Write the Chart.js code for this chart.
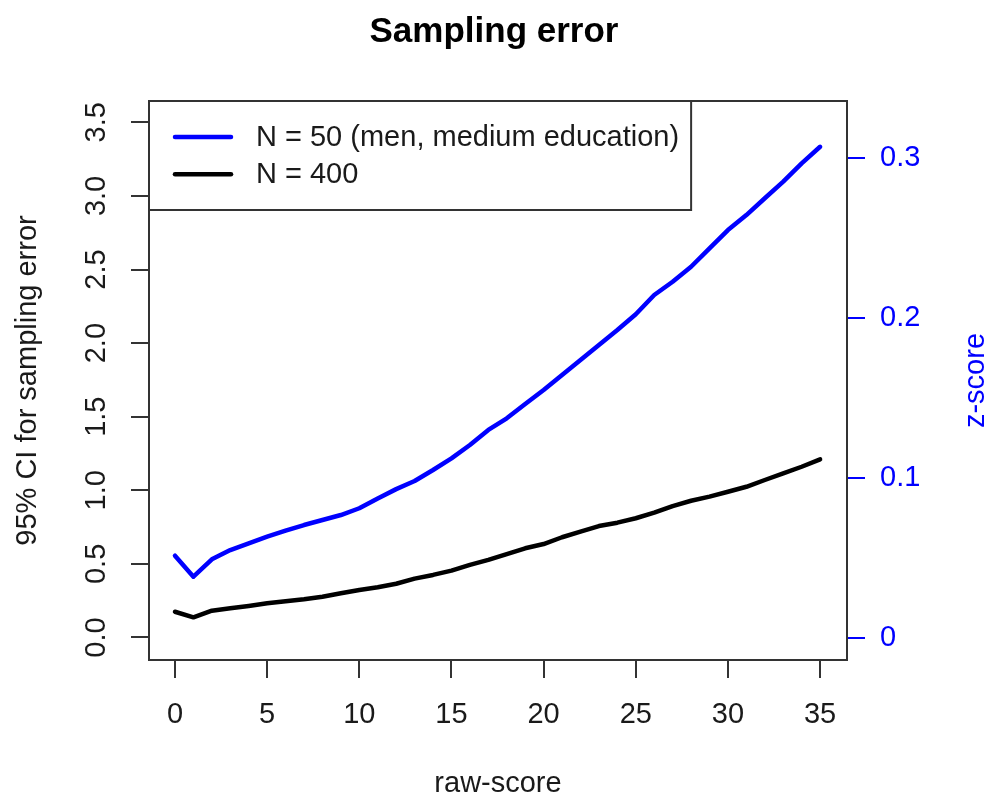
<!DOCTYPE html>
<html>
<head>
<meta charset="utf-8">
<title>Sampling error</title>
<script src="https://cdn.jsdelivr.net/npm/chart.js@4.4.1/dist/chart.umd.min.js"></script>
<style>
  html, body { margin: 0; padding: 0; background: #fff; }
  #chart { display: block; }
</style>
</head>
<body>
<canvas id="chart" width="988" height="798"></canvas>
<script>
// raw-score values along the x axis
const rawScores = [0, 1, 2, 3, 4, 5, 6, 7, 8, 9, 10, 11, 12, 13, 14, 15, 16, 17,
	18, 19, 20, 21, 22, 23, 24, 25, 26, 27, 28, 29, 30, 31, 32, 33, 34, 35];

// 95% CI for sampling error
const ciN50 = [0.556, 0.413, 0.531, 0.594, 0.640, 0.685, 0.726, 0.764, 0.798, 0.832,
	0.878, 0.945, 1.008, 1.063, 1.138, 1.217, 1.308, 1.410, 1.489, 1.586,
	1.681, 1.783, 1.885, 1.987, 2.089, 2.196, 2.327, 2.417, 2.519, 2.644,
	2.768, 2.870, 2.984, 3.097, 3.221, 3.334];
const ciN400 = [0.175, 0.137, 0.182, 0.198, 0.214, 0.232, 0.246, 0.260, 0.277, 0.300,
	0.323, 0.341, 0.365, 0.400, 0.425, 0.454, 0.493, 0.527, 0.567, 0.606,
	0.635, 0.681, 0.719, 0.757, 0.780, 0.810, 0.848, 0.893, 0.929, 0.957,
	0.990, 1.024, 1.070, 1.115, 1.160, 1.210];

const seriesLabels = ["N = 50 (men, medium education)", "N = 400"];
const seriesColors = ["#0000ff", "#000000"];

// tick labels
const xTicks = [0, 5, 10, 15, 20, 25, 30, 35];
const leftTicks = [0, 0.5, 1, 1.5, 2, 2.5, 3, 3.5];
const rightTicks = [0, 0.1, 0.2, 0.3];

const FONT = "'Liberation Sans', Arial, sans-serif";
const SIZE = 29;
const TEXT = "#1a1a1a";
const AXIS = "#333333";
const BLUE = "#0000ff";

// box, rotated y labels, right axis title and legend, drawn R style
const rStyle = {
	id: "rStyle",
	afterDraw(chart) {
		const { ctx, chartArea: area, scales } = chart;
		ctx.save();

		// plot box
		ctx.strokeStyle = AXIS;
		ctx.lineWidth = 2;
		ctx.strokeRect(area.left, area.top, area.right - area.left, area.bottom - area.top);

		// left tick labels run parallel to the axis
		ctx.fillStyle = TEXT;
		ctx.font = SIZE + "px " + FONT;
		ctx.textAlign = "center";
		ctx.textBaseline = "middle";
		scales.y.ticks.forEach((t) => {
			const py = scales.y.getPixelForValue(t.value);
			ctx.save();
			ctx.translate(area.left - 52, py);
			ctx.rotate(-Math.PI / 2);
			ctx.fillText(t.value.toFixed(1), 0, 0);
			ctx.restore();
		});

		// right axis title, reading upwards
		ctx.save();
		ctx.fillStyle = BLUE;
		ctx.translate(area.right + 129, (area.top + area.bottom) / 2);
		ctx.rotate(-Math.PI / 2);
		ctx.fillText("z-score", 0, 0);
		ctx.restore();

		// legend in the top left corner
		ctx.textAlign = "left";
		const widest = Math.max(...chart.data.datasets.map((d) => ctx.measureText(d.label).width));
		const textX = area.left + 107;
		const boxW = textX + widest + 12 - area.left;
		const boxH = 109;
		ctx.fillStyle = "#ffffff";
		ctx.fillRect(area.left, area.top, boxW, boxH);
		ctx.strokeStyle = AXIS;
		ctx.lineWidth = 2;
		ctx.strokeRect(area.left, area.top, boxW, boxH);
		chart.data.datasets.forEach((d, i) => {
			const ly = area.top + 36 + i * 37.3;
			ctx.strokeStyle = d.borderColor;
			ctx.lineWidth = 4.5;
			ctx.lineCap = "round";
			ctx.beginPath();
			ctx.moveTo(area.left + 26, ly);
			ctx.lineTo(area.left + 82, ly);
			ctx.stroke();
			ctx.fillStyle = TEXT;
			ctx.fillText(d.label, textX, ly + 1);
		});

		ctx.restore();
	},
};

const tickGrid = (color) => ({
	drawOnChartArea: false,
	drawTicks: true,
	tickLength: 18,
	lineWidth: 2,
	color: color,
});

const ctx = document.getElementById("chart").getContext("2d");
const chart = new Chart(ctx, {
	type: "line",
	data: {
		datasets: [
			{
				label: seriesLabels[0],
				data: rawScores.map((x, i) => ({ x: x, y: ciN50[i] })),
				borderColor: seriesColors[0],
				borderWidth: 4.5,
				yAxisID: "y",
			},
			{
				label: seriesLabels[1],
				data: rawScores.map((x, i) => ({ x: x, y: ciN400[i] })),
				borderColor: seriesColors[1],
				borderWidth: 4.5,
				yAxisID: "y",
			},
		],
	},
	options: {
		responsive: false,
		animation: false,
		events: [],
		layout: { padding: 0 },
		elements: {
			point: { radius: 0 },
			line: { tension: 0, borderCapStyle: "round", borderJoinStyle: "round", fill: false },
		},
		plugins: {
			legend: { display: false },
			tooltip: { enabled: false },
			title: {
				display: true,
				text: "Sampling error",
				color: "#000000",
				font: { family: FONT, size: 35, weight: "bold" },
				padding: { top: 11, bottom: 48 },
			},
		},
		scales: {
			x: {
				type: "linear",
				position: "bottom",
				min: -1.41,
				max: 36.46,
				afterBuildTicks: (s) => {
					s.ticks = xTicks.map((v) => ({ value: v }));
				},
				afterFit: (s) => {
					s.height = 138;
				},
				border: { display: false },
				grid: tickGrid(AXIS),
				ticks: {
					color: TEXT,
					font: { family: FONT, size: SIZE },
					padding: 19.6,
					maxRotation: 0,
					callback: (v) => String(v),
				},
				title: {
					display: true,
					text: "raw-score",
					color: TEXT,
					font: { family: FONT, size: SIZE },
					padding: { top: 0, bottom: -3 },
				},
			},
			y: {
				type: "linear",
				position: "left",
				min: -0.153,
				max: 3.645,
				afterBuildTicks: (s) => {
					s.ticks = leftTicks.map((v) => ({ value: v }));
				},
				afterFit: (s) => {
					s.width = 149;
				},
				border: { display: false },
				grid: tickGrid(AXIS),
				ticks: { display: false },
				title: {
					display: true,
					text: "95% CI for sampling error",
					color: TEXT,
					font: { family: FONT, size: SIZE },
					padding: { top: 10.6, bottom: 0 },
				},
			},
			y1: {
				type: "linear",
				position: "right",
				min: -0.01407,
				max: 0.3355,
				afterBuildTicks: (s) => {
					s.ticks = rightTicks.map((v) => ({ value: v }));
				},
				afterFit: (s) => {
					s.width = 141;
				},
				border: { display: false },
				grid: tickGrid(BLUE),
				ticks: {
					color: BLUE,
					font: { family: FONT, size: SIZE },
					padding: 15,
					callback: (v) => String(v),
				},
			},
		},
	},
	plugins: [rStyle],
});
</script>
</body>
</html>
